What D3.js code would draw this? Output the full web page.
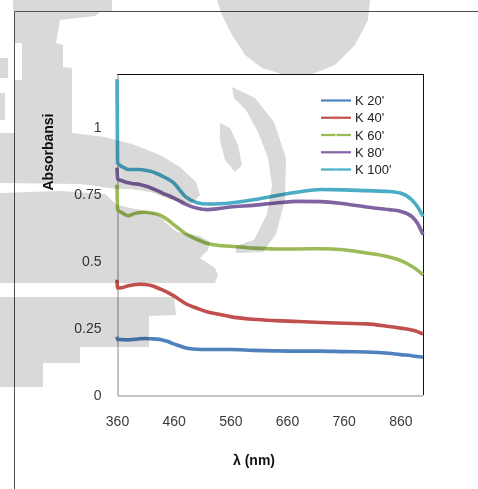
<!DOCTYPE html>
<html>
<head>
<meta charset="utf-8">
<script src="https://cdn.jsdelivr.net/npm/d3@7"></script>
<style>
  html, body { margin: 0; padding: 0; background: #fff; }
  svg { display: block; }
  .tick text { font-family: "Liberation Sans", Arial, sans-serif; font-size: 14px; fill: #3a3a3a; }
  .legend text { font-family: "Liberation Sans Narrow", "Liberation Sans", Arial, sans-serif; font-size: 13px; fill: #222; }
  .title { font-family: "Liberation Sans", Arial, sans-serif; font-size: 14px; font-weight: bold; fill: #111; }
  .emblem { mix-blend-mode: multiply; }
</style>
</head>
<body>
<script>
// Wavelength grid (nm); the first two points capture the sharp rise at the start of the scan
const wavelengths = [360, 361, 370, 380, 390, 400, 410, 420, 430, 440, 450, 460, 470, 480, 490, 500, 520, 540, 560, 600, 640, 680, 720, 760, 800, 840, 860, 880, 890, 900];

const seriesNames = ["K 20'", "K 40'", "K 60'", "K 80'", "K 100'"];
const seriesColors = ["#4F81BD", "#C0504D", "#9BBB59", "#8064A2", "#4BACC6"];

const k20 = [0.218, 0.208, 0.207, 0.206, 0.208, 0.210, 0.211, 0.210, 0.209, 0.206, 0.200, 0.191, 0.184, 0.177, 0.173, 0.171, 0.170, 0.170, 0.170, 0.167, 0.165, 0.164, 0.164, 0.162, 0.161, 0.156, 0.151, 0.147, 0.144, 0.141];
const k40 = [0.431, 0.400, 0.402, 0.408, 0.412, 0.414, 0.413, 0.409, 0.402, 0.393, 0.383, 0.371, 0.357, 0.343, 0.333, 0.325, 0.310, 0.302, 0.293, 0.283, 0.278, 0.275, 0.271, 0.268, 0.266, 0.256, 0.250, 0.243, 0.237, 0.228];
const k60 = [0.786, 0.693, 0.680, 0.670, 0.678, 0.682, 0.683, 0.681, 0.677, 0.668, 0.654, 0.637, 0.621, 0.605, 0.593, 0.583, 0.566, 0.559, 0.556, 0.549, 0.546, 0.546, 0.547, 0.543, 0.531, 0.516, 0.503, 0.481, 0.467, 0.449];
const k80 = [0.850, 0.808, 0.800, 0.793, 0.790, 0.787, 0.781, 0.774, 0.765, 0.755, 0.746, 0.737, 0.726, 0.714, 0.705, 0.699, 0.693, 0.697, 0.703, 0.709, 0.718, 0.724, 0.723, 0.715, 0.703, 0.693, 0.687, 0.668, 0.643, 0.599];
const k100 = [1.180, 0.868, 0.852, 0.843, 0.843, 0.843, 0.840, 0.836, 0.828, 0.818, 0.807, 0.793, 0.768, 0.743, 0.729, 0.720, 0.714, 0.715, 0.718, 0.730, 0.745, 0.759, 0.768, 0.767, 0.764, 0.761, 0.755, 0.730, 0.705, 0.668];

const seriesValues = [k20, k40, k60, k80, k100];

const xTicks = [360, 460, 560, 660, 760, 860];
const yTicks = [0, 0.25, 0.5, 0.75, 1];
const yTickLabels = ["0", "0.25", "0.5", "0.75", "1"];

const W = 478, H = 489;
const plot = { left: 117, right: 423, top: 74, bottom: 395 };

// Faint grey emblem printed behind the page (page pixel outlines)
const emblemShapes = [
  [[13,0],[112,0],[112,11],[13,11]],
  [[15,12],[100,12],[95,16],[60,20],[56,43],[63,45],[63,67],[72,68],[72,133],[15,133]],
  [[0,58],[8,58],[8,78],[0,78]],
  [[0,93],[5,93],[5,120],[0,120]],
  [[0,133],[72,133],[105,137],[135,145],[160,155],[180,167],[196,182],[200,195],[190,205],[172,200],[150,192],[130,189],[117,189],[80,184],[0,183]],
  [[0,193],[60,191],[105,194],[117,205],[140,210],[157,214],[165,222],[177,232],[200,236],[210,242],[208,250],[200,258],[215,268],[218,275],[215,283],[117,283],[0,283]],
  [[0,297],[174,297],[176,315],[149,316],[149,347],[80,347],[80,363],[43,363],[43,387],[0,387]],
  [[217,0],[370,0],[368,20],[355,45],[335,65],[310,75],[285,75],[262,68],[245,55],[232,35],[222,15]],
  [[232,87],[255,98],[274,122],[286,158],[285,200],[276,234],[263,252],[236,253],[236,246],[254,240],[267,214],[272,185],[268,158],[258,132],[246,110],[234,98]],
  [[220,123],[230,128],[238,145],[242,165],[235,172],[225,160],[220,140]]
];
const emblemHoles = [
  [[15,43],[22,43],[22,80],[15,80]]
];

const svg = d3.select("body").append("svg")
  .attr("width", W).attr("height", H);

// page frame lines
svg.append("line").attr("x1", 14.5).attr("x2", W).attr("y1", 11.5).attr("y2", 11.5)
  .attr("stroke", "#4d4d4d").attr("stroke-width", 1);
svg.append("line").attr("x1", 14.5).attr("x2", 14.5).attr("y1", 11.5).attr("y2", H)
  .attr("stroke", "#4d4d4d").attr("stroke-width", 1);

const x = d3.scaleLinear().domain([360, 900]).range([plot.left, plot.right]);
const y = d3.scaleLinear().domain([0, 1.2]).range([plot.bottom, plot.top]);

// plot area outline: dark top/right, grey axes
svg.append("line").attr("x1", plot.left).attr("x2", plot.right + 0.5)
  .attr("y1", plot.top + 0.5).attr("y2", plot.top + 0.5).attr("stroke", "#111");
svg.append("line").attr("x1", plot.right + 0.5).attr("x2", plot.right + 0.5)
  .attr("y1", plot.top).attr("y2", plot.bottom).attr("stroke", "#111");

const xAxis = svg.append("g")
  .attr("transform", `translate(0,${plot.bottom + 0.5})`)
  .call(d3.axisBottom(x).tickValues(xTicks).tickSize(0).tickPadding(21).tickFormat(d3.format("d")));
xAxis.select(".domain").attr("stroke", "#8a8a8a");

const yAxis = svg.append("g")
  .attr("transform", `translate(${plot.left + 0.5},0)`)
  .call(d3.axisLeft(y).tickValues(yTicks).tickSize(0).tickPadding(16)
    .tickFormat((d, i) => yTickLabels[i]));
yAxis.select(".domain").attr("stroke", "#8a8a8a");

// series lines
const line = d3.line()
  .x((d, i) => x(wavelengths[i]))
  .y(d => y(d))
  .curve(d3.curveMonotoneX);

svg.append("g").selectAll("path")
  .data(seriesValues)
  .join("path")
  .attr("d", line)
  .attr("fill", "none")
  .attr("stroke", (d, i) => seriesColors[i])
  .attr("stroke-width", 3.6)
  .attr("stroke-linejoin", "round");

// legend
const legend = svg.append("g").attr("class", "legend");
const rowY = d3.scalePoint().domain(seriesNames).range([100.5, 169.5]);
const item = legend.selectAll("g").data(seriesNames).join("g")
  .attr("transform", d => `translate(0,${rowY(d)})`);
item.append("line").attr("x1", 321).attr("x2", 351)
  .attr("stroke", (d, i) => seriesColors[i]).attr("stroke-width", 2.2);
item.append("path")
  .attr("d", d3.symbol(d3.symbolX, 10))
  .attr("transform", "translate(336,0)")
  .attr("stroke", (d, i) => d3.color(seriesColors[i]).brighter(0.8))
  .attr("stroke-width", 0.8).attr("fill", "none");
item.append("text").attr("x", 355).attr("y", 0).attr("dy", "0.35em").text(d => d);

// axis titles
svg.append("text").attr("class", "title")
  .attr("x", 254).attr("y", 465).attr("text-anchor", "middle").text("λ (nm)");
svg.append("text").attr("class", "title")
  .attr("transform", "translate(53,152) rotate(-90)")
  .attr("text-anchor", "middle").text("Absorbansi");

// emblem layer, multiplied over everything so marks read darker where they cross it
const outline = d3.line().curve(d3.curveLinearClosed);
svg.append("path")
  .attr("class", "emblem")
  .attr("d", emblemShapes.concat(emblemHoles).map(outline).join(""))
  .attr("fill", "#d9d9d9")
  .attr("fill-rule", "evenodd");
</script>
</body>
</html>
